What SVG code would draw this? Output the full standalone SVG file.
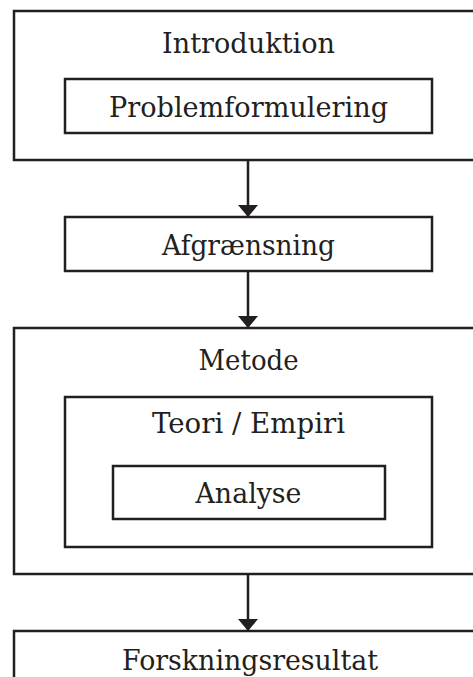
<svg xmlns="http://www.w3.org/2000/svg" width="473" height="677" viewBox="0 0 473 677">
<style>
.box{fill:none;stroke:#231f20;stroke-width:2.5}
.lbl{font-family:"DejaVu Serif","Liberation Serif",serif;font-size:28px;fill:#231f20;text-anchor:middle}
.con{stroke:#231f20;stroke-width:2.5;fill:none}
</style>
<defs>
<marker id="ah" viewBox="0 0 12 20" refX="12" refY="10" markerWidth="12" markerHeight="20" markerUnits="userSpaceOnUse" orient="auto">
<path d="M0,0 L12,10 L0,20 Z" fill="#231f20"/>
</marker>
</defs>
<rect width="473" height="677" fill="#fff"/>
<g id="introduktion">
<rect class="box" x="14" y="11" width="470" height="149"/>
<text class="lbl" x="248.5" y="53" textLength="173" lengthAdjust="spacingAndGlyphs">Introduktion</text>
</g>
<g id="problemformulering">
<rect class="box" x="65" y="79" width="367" height="54"/>
<text class="lbl" x="248.5" y="117" textLength="279" lengthAdjust="spacingAndGlyphs">Problemformulering</text>
</g>
<g id="afgraensning">
<rect class="box" x="65" y="217" width="367" height="54"/>
<text class="lbl" x="248.5" y="255" textLength="173" lengthAdjust="spacingAndGlyphs">Afgrænsning</text>
</g>
<g id="metode">
<rect class="box" x="14" y="328" width="470" height="246"/>
<text class="lbl" x="248.5" y="370" textLength="100" lengthAdjust="spacingAndGlyphs">Metode</text>
</g>
<g id="teori-empiri">
<rect class="box" x="65" y="397" width="367" height="150"/>
<text class="lbl" x="248.5" y="433" textLength="193" lengthAdjust="spacingAndGlyphs">Teori / Empiri</text>
</g>
<g id="analyse">
<rect class="box" x="113" y="466" width="272" height="53"/>
<text class="lbl" x="248.5" y="503" textLength="106" lengthAdjust="spacingAndGlyphs">Analyse</text>
</g>
<g id="forskningsresultat">
<rect class="box" x="14" y="631" width="470" height="60"/>
<text class="lbl" x="250" y="670" textLength="256" lengthAdjust="spacingAndGlyphs">Forskningsresultat</text>
</g>
<g id="connectors">
<line class="con" x1="248" y1="160" x2="248" y2="217" marker-end="url(#ah)"/>
<line class="con" x1="248" y1="271" x2="248" y2="328" marker-end="url(#ah)"/>
<line class="con" x1="248" y1="574" x2="248" y2="631" marker-end="url(#ah)"/>
</g>
</svg>
